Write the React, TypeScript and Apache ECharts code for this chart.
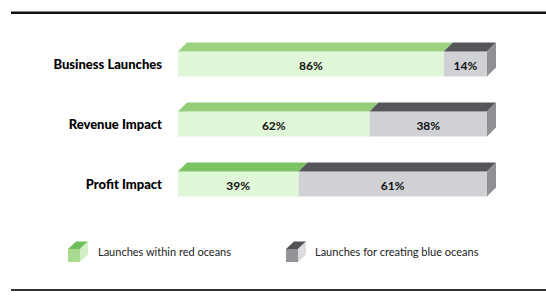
import { useEffect, useRef } from "react";
import * as echarts from "echarts";

const categories = ["Business Launches", "Revenue Impact", "Profit Impact"];
const redOceanShare = [86, 62, 39];
const blueOceanShare = [14, 38, 61];
const seriesNames = ["Launches within red oceans", "Launches for creating blue oceans"];

const DEPTH = 9;
const FRONT_H = 25;
const FONT = "Lato, 'Open Sans', sans-serif";

const greenFront = "#e0f7d8";
const greenTops = ["#9ad27f", "#93cd78", "#7cc364"];
const grayFront = "#d0d1d5";
const grayTop = "#54565a";
const graySide = "#8f9094";

function makeRender(front: string, tops: string[], showSide: boolean) {
  return (params: any, api: any) => {
    const start = api.value(0);
    const end = api.value(1);
    const idx = api.value(2);
    const pct = api.value(3);
    const p1 = api.coord([start, idx]);
    const p2 = api.coord([end, idx]);
    const yTop = p1[1] - FRONT_H / 2;
    const yBot = p1[1] + FRONT_H / 2;
    const top = tops[idx % tops.length];
    const children: any[] = [
      {
        type: "rect",
        shape: { x: p1[0], y: yTop, width: p2[0] - p1[0], height: FRONT_H },
        style: { fill: front },
      },
      {
        type: "polygon",
        shape: {
          points: [
            [p1[0], yTop],
            [p1[0] + DEPTH, yTop - DEPTH],
            [p2[0] + DEPTH, yTop - DEPTH],
            [p2[0], yTop],
          ],
        },
        style: { fill: top },
      },
    ];
    if (showSide) {
      children.push({
        type: "polygon",
        shape: {
          points: [
            [p2[0], yTop],
            [p2[0] + DEPTH, yTop - DEPTH],
            [p2[0] + DEPTH, yBot - DEPTH],
            [p2[0], yBot],
          ],
        },
        style: { fill: graySide },
      });
    }
    children.push({
      type: "text",
      style: {
        text: pct + "%",
        x: (p1[0] + p2[0]) / 2,
        y: p1[1] + 1,
        align: "center",
        verticalAlign: "middle",
        fontFamily: FONT,
        fontWeight: "bold",
        fontSize: 12,
        fill: "#111",
      },
    });
    return { type: "group", children };
  };
}

function cubeIcon(x: number, y: number, front: string, top: string, side: string) {
  const w = 12, h = 13, dx = 8, dy = 7.5;
  return [
    { type: "rect", shape: { x, y, width: w, height: h }, style: { fill: front } },
    {
      type: "polygon",
      shape: { points: [[x, y], [x + dx, y - dy], [x + w + dx, y - dy], [x + w, y]] },
      style: { fill: top },
    },
    {
      type: "polygon",
      shape: { points: [[x + w, y], [x + w + dx, y - dy], [x + w + dx, y + h - dy], [x + w, y + h]] },
      style: { fill: side },
    },
  ];
}

export default function App() {
  const ref = useRef<HTMLDivElement>(null);
  useEffect(() => {
    if (!ref.current) return;
    const chart = echarts.init(ref.current, undefined, { renderer: "svg" });
    const redData = redOceanShare.map((v, i) => [0, v, i, v]);
    const blueData = blueOceanShare.map((v, i) => [redOceanShare[i], redOceanShare[i] + v, i, v]);
    chart.setOption({
      animation: false,
      grid: { left: 178, right: 59, top: 34, bottom: 83 },
      xAxis: { type: "value", min: 0, max: 100, show: false },
      yAxis: {
        type: "category",
        data: categories,
        inverse: true,
        axisLine: { show: false },
        axisTick: { show: false },
        splitLine: { show: false },
        axisLabel: {
          margin: 16,
          color: "#000",
          fontFamily: FONT,
          fontWeight: 900,
          fontSize: 13,
        },
      },
      series: [
        {
          name: seriesNames[0],
          type: "custom",
          renderItem: makeRender(greenFront, greenTops, false),
          encode: { x: [0, 1], y: 2 },
          data: redData,
        },
        {
          name: seriesNames[1],
          type: "custom",
          renderItem: makeRender(grayFront, [grayTop], true),
          encode: { x: [0, 1], y: 2 },
          data: blueData,
        },
      ],
      graphic: [
        { type: "rect", shape: { x: 11, y: 11.5, width: 535, height: 2.5 }, style: { fill: "#111" } },
        { type: "rect", shape: { x: 11, y: 289, width: 535, height: 2 }, style: { fill: "#333" } },
        ...cubeIcon(68, 249, "#a8db90", "#6fbf5a", "#d2f0c6"),
        {
          type: "text",
          style: {
            text: seriesNames[0],
            x: 98,
            y: 251,
            verticalAlign: "middle",
            fontFamily: FONT,
            fontSize: 11,
            fill: "#222",
          },
        },
        ...cubeIcon(286, 249, "#929396", "#505256", "#dcdcdf"),
        {
          type: "text",
          style: {
            text: seriesNames[1],
            x: 315,
            y: 251,
            verticalAlign: "middle",
            fontFamily: FONT,
            fontSize: 11,
            fill: "#222",
          },
        },
      ],
    });
    return () => chart.dispose();
  }, []);
  return (
    <div
      ref={ref}
      style={{ position: "fixed", left: 0, top: 0, width: 546, height: 297, background: "#fff" }}
    />
  );
}
